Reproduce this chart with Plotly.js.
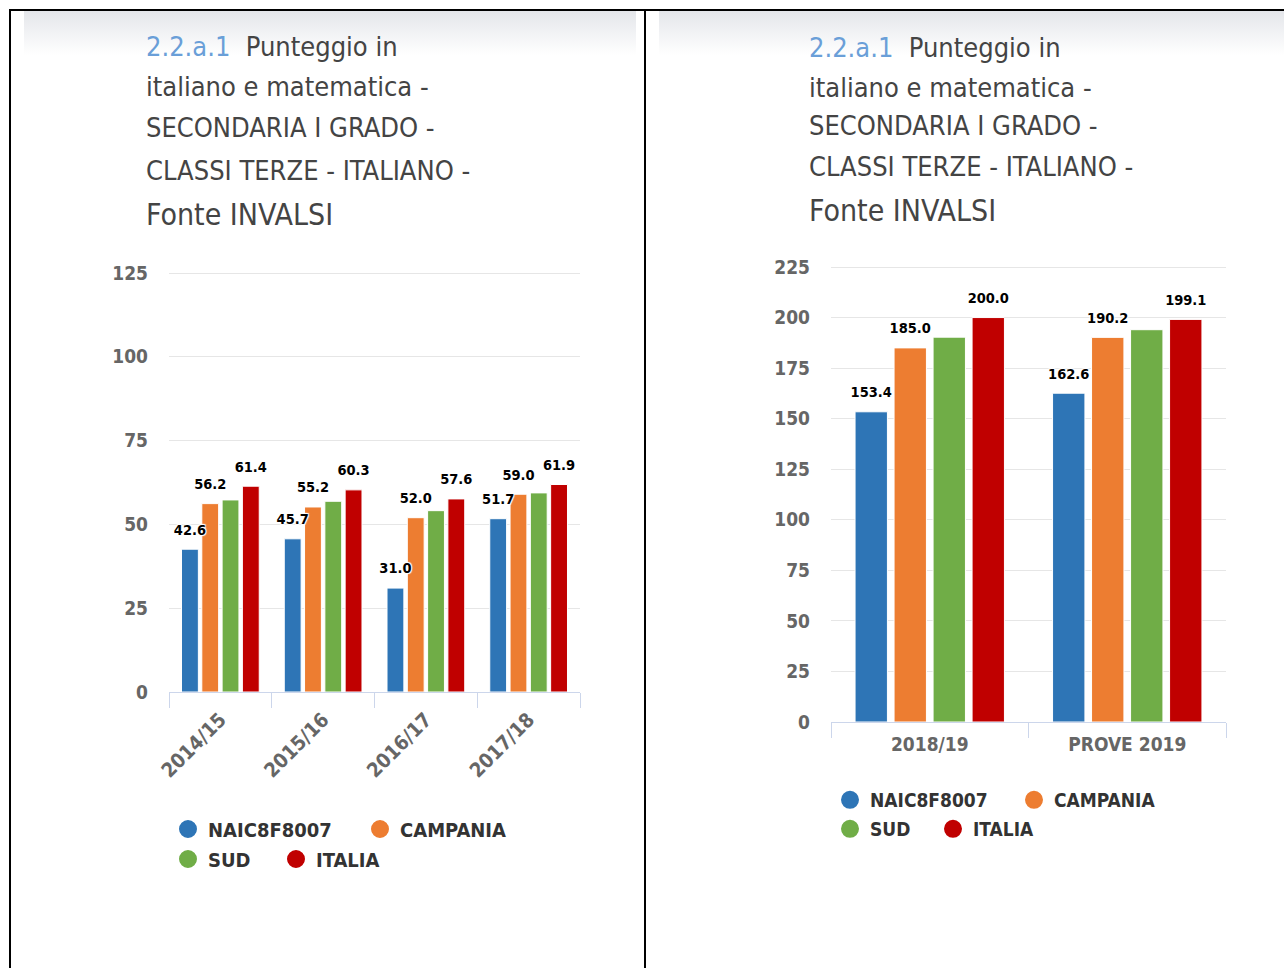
<!DOCTYPE html>
<html><head><meta charset="utf-8">
<script src="https://cdn.plot.ly/plotly-3.0.1.min.js"></script>
<style>
body{margin:0;background:#fff;width:1284px;height:968px;overflow:hidden;position:relative}
.frame{position:absolute;background:#000}
.band{position:absolute;top:11px;height:44px;background:linear-gradient(#e4e6ea,#ffffff)}
.chart{position:absolute;top:11px;height:957px}
</style></head><body>
<div class="band" style="left:24px;width:612px"></div>
<div class="band" style="left:659px;width:625px"></div>
<div class="frame" style="left:9px;top:9px;width:1275px;height:2px"></div>
<div class="frame" style="left:9px;top:9px;width:2px;height:959px"></div>
<div class="frame" style="left:644px;top:9px;width:2px;height:959px"></div>
<div id="c1" class="chart" style="left:11px;width:633px"></div>
<div id="c2" class="chart" style="left:646px;width:638px"></div>
<script>
// ---- data ----
const seriesNames = ['NAIC8F8007', 'CAMPANIA', 'SUD', 'ITALIA'];
const seriesColors = ['#2e75b6', '#ed7d31', '#70ad47', '#c00000'];
const labelShown = [true, true, false, true];

const yearsA = ['2014/15', '2015/16', '2016/17', '2017/18'];
const naicA = [42.6, 45.7, 31.0, 51.7];
const campaniaA = [56.2, 55.2, 52.0, 59.0];
const sudA = [57.3, 56.9, 54.1, 59.4];
const italiaA = [61.4, 60.3, 57.6, 61.9];
const yTicksA = [0, 25, 50, 75, 100, 125];

const yearsB = ['2018/19', 'PROVE 2019'];
const naicB = [153.4, 162.6];
const campaniaB = [185.0, 190.2];
const sudB = [190.3, 194.0];
const italiaB = [200.0, 199.1];
const yTicksB = [0, 25, 50, 75, 100, 125, 150, 175, 200, 225];

const titleLines = [
  '<span style="color:#6a9fd8">2.2.a.1</span>\u00a0 Punteggio in',
  'italiano e matematica -',
  'SECONDARIA I GRADO -',
  'CLASSI TERZE - ITALIANO -',
  'Fonte INVALSI'
];
const titleSizes = [27, 27, 27, 27, 30];

const FONT = "'DejaVu Sans Condensed','DejaVu Sans',sans-serif";

function makeFig(divId, spec) {
  const W = spec.width, H = 957;
  const PAD = 2; // keep the top gridline inside the plot area
  const m = Object.assign({}, spec.margin, {t: spec.margin.t - PAD});
  const plotW = W - m.l - m.r, plotH = H - m.t - m.b;
  const yTop = spec.ymax * plotH / (plotH - PAD);
  const px2x = px => (px - m.l) / plotW;
  const px2y = py => 1 - (py - m.t) / plotH;
  const traces = [];
  spec.series.forEach((vals, i) => {
    traces.push({
      type: 'bar', name: seriesNames[i], x: spec.cats, y: vals,
      marker: {color: seriesColors[i], line: {color: '#ffffff', width: 1}},
      showlegend: false, hoverinfo: 'skip'
    });
  });
  spec.series.forEach((vals, i) => {
    traces.push({
      type: 'scatter', x: spec.cats, y: vals,
      mode: labelShown[i] ? 'markers+text' : 'markers',
      marker: {size: 16, opacity: 0, color: seriesColors[i]},
      texttemplate: '%{y:.1f}', textposition: 'top center',
      textfont: {family: FONT, size: 14.5, color: '#000', weight: 'bold',
        shadow: '1px 1px 1px #fff, -1px -1px 1px #fff, 1px -1px 1px #fff, -1px 1px 1px #fff'},
      showlegend: false, cliponaxis: false, hoverinfo: 'skip'
    });
  });
  spec.series.forEach((vals, i) => {
    traces.push({
      type: 'scatter', x: [null], y: [null], xaxis: 'x2', yaxis: 'y2', mode: 'markers',
      name: seriesNames[i],
      marker: {color: seriesColors[i], size: 16, symbol: 'circle', line: {color: seriesColors[i], width: 2}},
      legend: i < 2 ? 'legend' : 'legend2', showlegend: true, hoverinfo: 'skip'
    });
  });
  const tickFont = {family: FONT, size: 19, color: '#666666', weight: 'bold'};
  const xTickFont = {family: FONT, size: spec.xTickSize, color: '#666666', weight: 'bold'};
  const legFont = {family: FONT, size: spec.legFontSize, color: '#333333', weight: 'bold'};
  const legBase = {orientation: 'h', xref: 'container', yref: 'container', xanchor: 'left', yanchor: 'middle',
    font: legFont, bgcolor: 'rgba(0,0,0,0)', borderwidth: 0, itemclick: false, itemdoubleclick: false};
  const annotations = titleLines.map((t, i) => ({
    text: t, xref: 'paper', yref: 'paper', x: px2x(spec.titleX), y: px2y(spec.titleY[i]),
    xanchor: 'left', yanchor: 'middle', showarrow: false, align: 'left',
    font: {family: FONT, size: titleSizes[i], color: '#444444'}
  }));
  const layout = {
    width: W, height: H, margin: m,
    paper_bgcolor: 'rgba(0,0,0,0)', plot_bgcolor: 'rgba(0,0,0,0)',
    barmode: 'group', bargap: 0.21, bargroupgap: 0.17,
    scattermode: 'group', scattergap: 0.21,
    font: {family: FONT},
    hovermode: false, showlegend: true,
    xaxis: {type: 'category', showline: true, linecolor: '#ccd6eb', linewidth: 1,
      ticks: 'outside', tickson: 'boundaries', ticklen: 15, tickcolor: '#ccd6eb', tickwidth: 1,
      tickangle: spec.tickangle, tickfont: xTickFont, ticklabelstandoff: spec.xStandoff,
      showgrid: false, zeroline: false, fixedrange: true},
    yaxis: {range: [0, yTop], tickvals: spec.yticks, gridcolor: '#e6e6e6', gridwidth: 1,
      showline: false, zeroline: false, ticks: '', tickfont: tickFont, ticklabelstandoff: 20, fixedrange: true},
    xaxis2: {visible: false, overlaying: 'x'},
    yaxis2: {visible: false, overlaying: 'y'},
    legend: Object.assign({}, legBase, {x: spec.legX / W, y: 1 - spec.legY[0] / H, entrywidth: spec.entryW[0]}),
    legend2: Object.assign({}, legBase, {x: spec.legX / W, y: 1 - spec.legY[1] / H, entrywidth: spec.entryW[1]}),
    annotations: annotations
  };
  Plotly.newPlot(divId, traces, layout, {displayModeBar: false, staticPlot: true});
}

makeFig('c1', {
  width: 633, margin: {l: 158, r: 64, t: 262, b: 276},
  cats: yearsA, series: [naicA, campaniaA, sudA, italiaA],
  ymax: 125, yticks: yTicksA, tickangle: -45, xTickSize: 20, xStandoff: 7,
  titleX: 133, titleY: [35, 76, 116, 159, 203],
  legX: 157, legY: [818, 848], legFontSize: 20, entryW: [147, 63]
});
makeFig('c2', {
  width: 638, margin: {l: 185, r: 58, t: 256, b: 246},
  cats: yearsB, series: [naicB, campaniaB, sudB, italiaB],
  ymax: 225, yticks: yTicksB, tickangle: 0, xTickSize: 19, xStandoff: 5,
  titleX: 161, titleY: [36, 76, 115, 156, 199],
  legX: 184, legY: [789, 818], legFontSize: 19, entryW: [139, 58]
});
</script>
</body></html>
